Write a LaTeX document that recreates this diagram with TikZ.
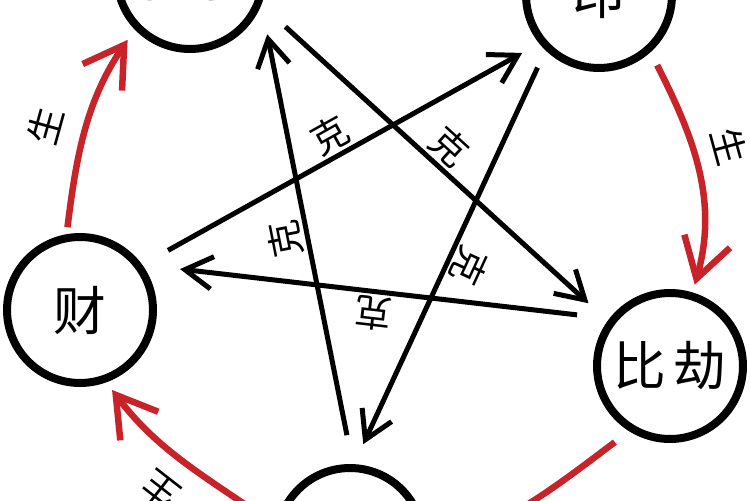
\documentclass[tikz,border=0pt]{standalone}
\usepackage{fontspec}
\newfontfamily\cjk{Noto Sans CJK SC}
\usetikzlibrary{arrows.meta}
\definecolor{shenghong}{RGB}{200,35,40}
\begin{document}
\begin{tikzpicture}[x=0.02cm, y=-0.02cm,
	every node/.style={font=\cjk},
	shen/.style={circle, draw, line width=0.16cm, minimum size=2.92cm, inner sep=0pt, font=\cjk\fontsize{30}{30}\selectfont},
	ke/.style={line width=0.1cm, -{Straight Barb[length=0.55cm, width=0.65cm]}},
	sheng/.style={draw=shenghong, line width=0.13cm, -{Straight Barb[length=0.78cm, width=0.95cm]}},
	zi/.style={font=\cjk\fontsize{21}{21}\selectfont, inner sep=0pt, sloped, allow upside down}]
	\useasboundingbox (0,0) rectangle (750,500);
	\clip (0,0) rectangle (750,500);
	\node[shen] (guan) at (190,-24) {官杀};
	\node[shen] (yin) at (599,-5) {印};
	\node[shen] (bijie) at (670,366) {比\hspace{0.13em}劫};
	\node[shen] (cai) at (80,310) {财};
	\node[shen] (shishang) at (350,541) {};
	\draw[ke, shorten <=0.59cm, shorten >=0.39cm] (cai.36) -- node[zi, above=0.05cm] {克} (yin.219);
	\draw[ke, shorten <=0.65cm, shorten >=0.52cm] (guan.-22) -- node[zi, above=0.05cm] {克} (bijie.144);
	\draw[ke, shorten <=0.65cm, shorten >=0.76cm] (bijie.142) -- node[zi, above=0.05cm] {克} (cai.36);
	\draw[ke, shorten <=0.59cm, shorten >=0.6cm] (shishang.88) -- node[zi, above=0.05cm] {克} (guan.-22);
	\draw[ke, shorten <=0.38cm, shorten >=0.44cm] (yin.226) -- node[zi, above=0.05cm] {克} (shishang.87);
	\draw[sheng, shorten <=0.14cm, shorten >=0.25cm] (cai.100) to[out=83, in=-124] node[zi, above=0.4cm, pos=0.45] {生} (guan.224);
	\draw[sheng, shorten <=0.29cm, shorten >=0.16cm] (yin.-48) to[out=-63, in=74] node[zi, above=0.33cm, pos=0.44] {生} (bijie.73);
	\draw[sheng, shorten <=0.36cm, shorten >=0.2cm] (bijie.238) to[out=217, in=20] (shishang.-8);
	\draw[sheng, shorten <=0.16cm, shorten >=0.19cm] (shishang.168) to[out=145, in=-53] node[zi, above=0.37cm, pos=0.5] {生} (cai.-70);
\end{tikzpicture}
\end{document}
